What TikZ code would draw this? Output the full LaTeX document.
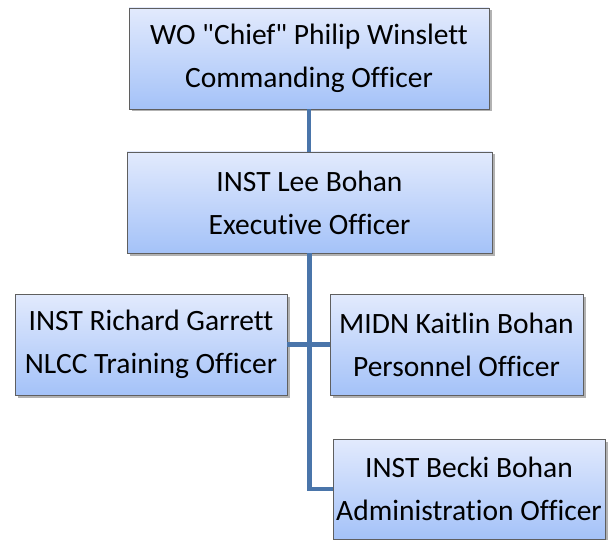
\documentclass[tikz,border=0pt]{standalone}
\usepackage{fontspec}
\setmainfont{Carlito}[Ligatures=NoCommon]
\usetikzlibrary{shadows}
\definecolor{color_org_top}{HTML}{E2EAFD}
\definecolor{color_org_bottom}{HTML}{A4C2F8}
\definecolor{color_org_line}{HTML}{4A75AA}
\definecolor{color_org_border}{HTML}{5F5F5F}
\def\orgboxheight{101pt}
\def\orgfont{\fontsize{29.5}{43}\selectfont}

\begin{document}
\begin{tikzpicture}[x=1pt,y=-1pt,
    orgbox/.style={rectangle, draw=color_org_border, line width=0.8pt, top color=color_org_top, bottom color=color_org_bottom, minimum height=\orgboxheight, inner sep=0pt, align=center, font=\orgfont, drop shadow={shadow xshift=2.5pt, shadow yshift=-2.5pt, opacity=0.3, fill=black}},
    orgline/.style={color_org_line, line width=4.5pt}]
        \useasboundingbox (0,0) rectangle (613,540);

        % all boxes
        \node[orgbox, minimum width=360pt] (chief) at (309,58.5) {WO \textquotedbl Chief\textquotedbl{} Philip Winslett\\Commanding Officer};
        \node[orgbox, minimum width=365pt] (xo) at (309.5,202.5) {INST Lee Bohan\\Executive Officer};
        \node[orgbox, minimum width=272pt] (training) at (151,344.5) {INST Richard Garrett\\NLCC Training Officer};
        \node[orgbox, minimum width=253pt] (personnel) at (456.5,344.5) {MIDN Kaitlin Bohan\\Personnel Officer};
        \node[orgbox, minimum width=272pt, minimum height=100pt] (admin) at (469,489) {INST Becki Bohan\\Administration Officer};

        % connectors
        \draw[orgline] (chief.south) -- (chief.south |- xo.north);
        \draw[orgline] (xo.south) |- (admin.west);
        \draw[orgline] (training.east) -- (personnel.west);
    \end{tikzpicture}
\end{document}
